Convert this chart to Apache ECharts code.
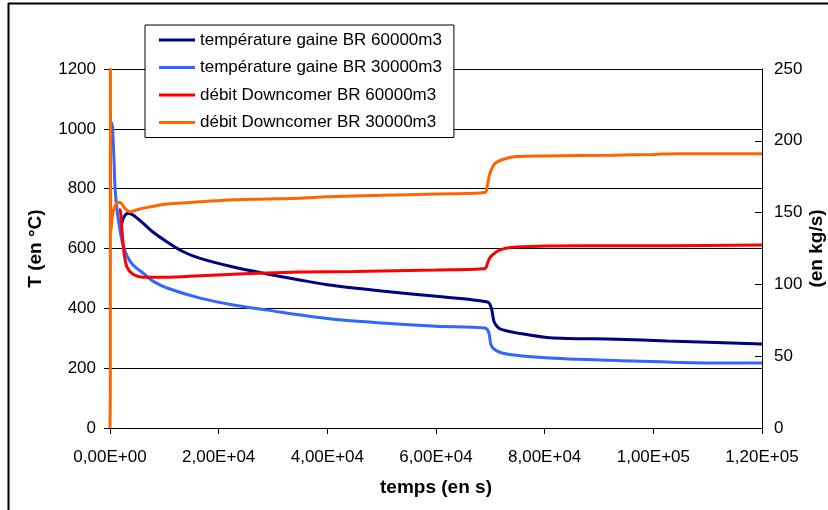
<!DOCTYPE html>
<html>
<head>
<meta charset="utf-8">
<script src="https://cdn.jsdelivr.net/npm/echarts@6/dist/echarts.min.js"></script>
<style>
html,body{margin:0;padding:0;background:#fff;}
#chart{width:828px;height:510px;}
</style>
</head>
<body>
<div id="chart"></div>
<script>
// ---- data ----
const seriesNames = [
  'température gaine BR 60000m3',
  'température gaine BR 30000m3',
  'débit Downcomer BR 60000m3',
  'débit Downcomer BR 30000m3'
];
// [temps (s), T (°C)]
const tempBR60000 = [
  [2200,685],[2580,706],[3310,718],[4230,712],[6070,685],[7900,655],[10500,622],
  [13400,590],[16600,567],[22700,538],[28900,515],[34900,495],[40000,479],
  [50000,458],[60000,440],[69500,421],[70200,400],[70700,354],[71500,335],
  [72300,328],[74800,318],[80900,302],[93300,297],[102500,291],[120000,281]
];
const tempBR30000 = [
  [300,1012],[370,1019],[550,973],[740,896],[920,805],[1290,729],[1840,662],
  [2390,612],[3130,575],[4230,545],[6070,518],[7900,491],[10500,468],
  [16600,434],[22700,411],[28900,394],[40000,366],[50000,351],[60000,340],
  [69000,334],[69700,320],[70300,271],[72300,250],[80900,234],[96300,224],
  [111800,217],[120000,217]
];
// [temps (s), débit (kg/s)]
const debitBR60000 = [
  [1650,152],[1840,152],[2200,138],[2580,122],[3130,112],[4230,107],[6070,105],
  [10500,105],[16600,106],[22700,107],[28900,108],[34900,108.6],[45000,109],
  [60000,110],[69000,111],[69500,115],[70000,119],[71800,124],[74800,126],
  [87000,127],[102000,127],[120000,127.5]
];
const debitBR30000 = [
  [0,0],[60,24],[80,250],[200,138],[550,150],[1470,157],[1840,157],[2760,153],
  [3680,150.5],[5000,152],[7400,154],[10500,156],[16600,157.5],[22700,159],
  [28900,159.5],[34900,160],[40000,161],[50000,162],[60000,163],[69000,164],
  [69500,170],[69900,177],[70800,184],[72300,187],[74800,189],[80000,189.5],
  [92600,190],[100000,190.5],[104200,191],[120000,191]
];
const xTickValues = [0,20000,40000,60000,80000,100000,120000];
const xTickLabels = ['0,00E+00','2,00E+04','4,00E+04','6,00E+04','8,00E+04','1,00E+05','1,20E+05'];
const colors = ['#000080','#3366FF','#FF0000','#FF6600'];

const font = 'Liberation Sans, Arial, sans-serif';
const chart = echarts.init(document.getElementById('chart'));
const mk = (i, data, yi) => ({
  name: seriesNames[i], type: 'line', data: data, yAxisIndex: yi,
  showSymbol: false, symbol: 'none', smooth: 0.3,
  lineStyle: {color: colors[i], width: 3}, itemStyle: {color: colors[i]},
  emphasis: {disabled: true}
});
chart.setOption({
  animation: false,
  textStyle: {fontFamily: font},
  grid: {left: 110, right: 66, top: 69, bottom: 82, containLabel: false, outerBoundsMode: 'none'},
  graphic: [
    {type: 'line', shape: {x1: 8.5, y1: 3, x2: 8.5, y2: 510}, style: {stroke: '#000', lineWidth: 2}, z: 100},
    {type: 'line', shape: {x1: 8, y1: 3.5, x2: 828, y2: 3.5}, style: {stroke: '#000', lineWidth: 2}, z: 100}
  ],
  legend: {
    show: true, orient: 'vertical', left: 145, top: 25,
    backgroundColor: '#fff', borderColor: '#000', borderWidth: 1,
    padding: [6, 12, 6, 14], itemGap: 9.5, itemWidth: 36, itemHeight: 3,
    icon: 'rect', data: seriesNames,
    textStyle: {fontSize: 17, color: '#000', fontFamily: font, lineHeight: 18},
    z: 50
  },
  xAxis: {
    type: 'value', min: 0, max: 120000, interval: 20000,
    name: 'temps (en s)', nameLocation: 'middle', nameGap: 50, nameMoveOverlap: false,
    nameTextStyle: {fontSize: 19, fontWeight: 'bold', color: '#000'},
    axisLine: {lineStyle: {color: '#000', width: 1}},
    axisTick: {show: true, length: 6, lineStyle: {color: '#000'}},
    axisLabel: {fontSize: 17, color: '#000', margin: 21,
      formatter: v => { const i = xTickValues.indexOf(v); return i >= 0 ? xTickLabels[i] : ''; }},
    splitLine: {show: false}
  },
  yAxis: [
    {
      type: 'value', min: 0, max: 1200, interval: 200, position: 'left',
      name: 'T (en °C)', nameLocation: 'middle', nameGap: 65, nameRotate: 90, nameMoveOverlap: false,
      nameTextStyle: {fontSize: 19, fontWeight: 'bold', color: '#000'},
      axisLine: {show: true, lineStyle: {color: '#000'}},
      axisTick: {show: true, length: 6, lineStyle: {color: '#000'}},
      axisLabel: {fontSize: 17, color: '#000', margin: 14, formatter: v => String(v)},
      splitLine: {show: true, lineStyle: {color: '#000', width: 1}}
    },
    {
      type: 'value', min: 0, max: 250, interval: 50, position: 'right',
      name: '(en kg/s)', nameLocation: 'middle', nameGap: 45, nameRotate: 90, nameMoveOverlap: false,
      nameTextStyle: {fontSize: 19, fontWeight: 'bold', color: '#000'},
      axisLine: {show: true, lineStyle: {color: '#000'}},
      axisTick: {show: true, inside: true, length: 7, lineStyle: {color: '#000'}},
      axisLabel: {fontSize: 17, color: '#000', margin: 12, formatter: v => String(v)},
      splitLine: {show: false}
    }
  ],
  series: [
    mk(0, tempBR60000, 0),
    mk(1, tempBR30000, 0),
    mk(2, debitBR60000, 1),
    mk(3, debitBR30000, 1)
  ]
});
</script>
</body>
</html>
